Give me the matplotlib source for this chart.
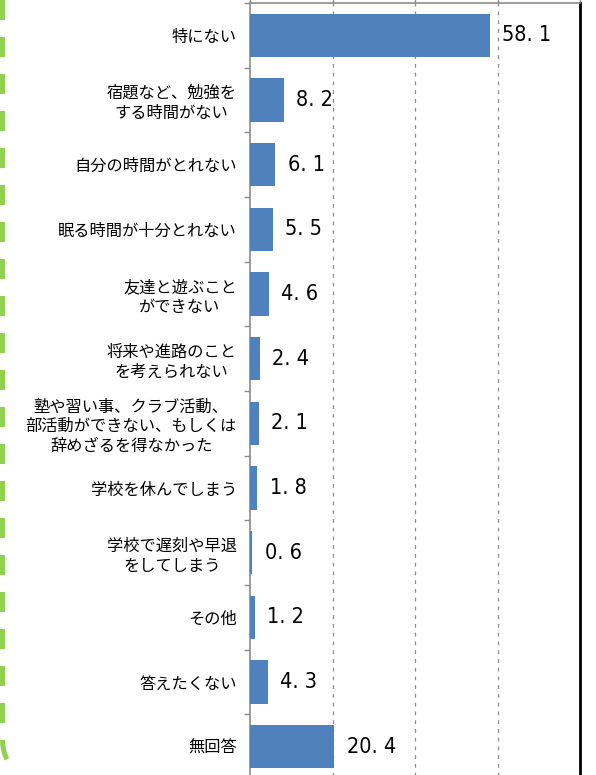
import numpy as np
import matplotlib
matplotlib.use("Agg")
import matplotlib.pyplot as plt
from matplotlib.lines import Line2D
from matplotlib import font_manager

plt.rcParams['font.family'] = ['Noto Sans CJK JP', 'DejaVu Sans']

# survey answers, top to bottom
categories = [
    "特にない",
    "宿題など、勉強を\nする時間がない",
    "自分の時間がとれない",
    "眠る時間が十分とれない",
    "友達と遊ぶこと\nができない",
    "将来や進路のこと\nを考えられない",
    "塾や習い事、クラブ活動、\n部活動ができない、もしくは\n辞めざるを得なかった",
    "学校を休んでしまう",
    "学校で遅刻や早退\nをしてしまう",
    "その他",
    "答えたくない",
    "無回答",
]
values = [58.1, 8.2, 6.1, 5.5, 4.6, 2.4, 2.1, 1.8, 0.6, 1.2, 4.3, 20.4]
grid_ticks = [0, 20, 40, 60, 80]

# narrow face for the numbers if one is around
names = {f.name for f in font_manager.fontManager.ttflist}
num_family = [n for n in ["Liberation Sans Narrow", "DejaVu Sans"] if n in names]

W, H = 596, 775
fig = plt.figure(figsize=(W / 100, H / 100), dpi=100)

# plot area: x 250..580 px, top at 3 px, runs a little past the bottom edge
ax = fig.add_axes([250 / W, 1 - 3 / H - 776 / H, 330 / W, 776 / H])

y = np.arange(len(categories))
ax.barh(y, values, height=0.67, color="#4f81bd", zorder=3)
ax.set_ylim(len(categories) - 0.5, -0.5)
ax.set_xlim(0, 80)

for yi, v in zip(y, values):
    ax.annotate(f"{v:.1f}".replace(".", ". "), (v, yi), xytext=(9, 0),
                textcoords="offset points", va="center", ha="left",
                fontsize=15.5, family=num_family, fontstretch="condensed",
                color="black")

# dashed vertical gridlines
for g in grid_ticks[1:-1]:
    ax.axvline(g, color="#8c8c8c", lw=0.9, ls=(0, (3, 4)), zorder=1)

ax.set_yticks(y)
ax.set_yticklabels(categories, fontsize=11.7, multialignment="center",
                   linespacing=1.22)
ax.set_yticks(np.arange(len(categories) + 1) - 0.5, minor=True)
ax.tick_params(axis="y", which="major", length=0, pad=9.5)
ax.tick_params(axis="y", which="minor", length=4, color="#8c8c8c", width=1)

ax.xaxis.tick_top()
ax.set_xticks(grid_ticks)
ax.set_xticklabels([])
ax.tick_params(axis="x", length=3, color="#8c8c8c", width=1)

for s in ["left", "top", "bottom"]:
    ax.spines[s].set_color("#8c8c8c")
    ax.spines[s].set_linewidth(1.2)
ax.spines["right"].set_color("black")
ax.spines["right"].set_linewidth(2)

# green dashed frame on the left with a rounded lower corner
r = 45
cy = 35
t = np.linspace(np.pi, 1.25 * np.pi, 20)
xs = np.concatenate([[2.5, 2.5], 2.5 + r + r * np.cos(t)])
ys = np.concatenate([[H, cy], cy + r * np.sin(t)])
frame = Line2D(xs / W, ys / H, transform=fig.transFigure, color="#92d050",
               lw=3.6, dashes=(4, 3.4), solid_capstyle="butt",
               dash_capstyle="butt")
fig.add_artist(frame)

fig.savefig("out.png", dpi=100)
